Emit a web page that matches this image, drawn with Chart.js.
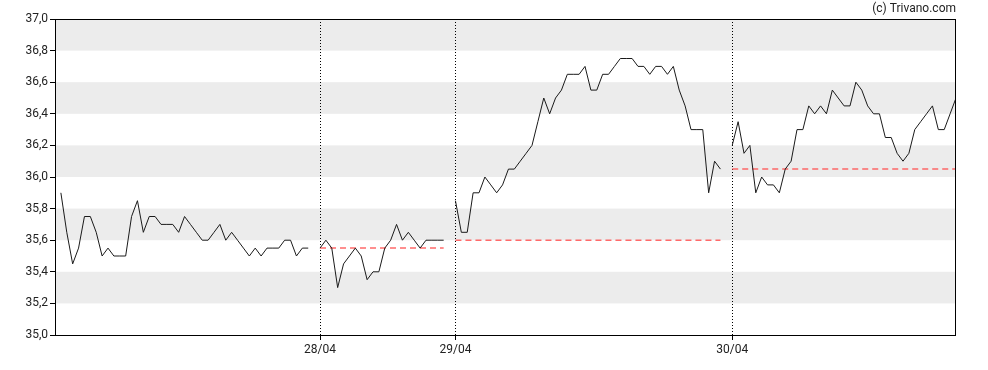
<!DOCTYPE html>
<html>
<head>
<meta charset="utf-8">
<script src="https://cdn.jsdelivr.net/npm/chart.js@4/dist/chart.umd.min.js"></script>
<style>
html,body{margin:0;padding:0;background:#fff;}
canvas{display:block;}
</style>
</head>
<body>
<canvas id="c" width="988" height="370"></canvas>
<script>
// Day labels (placed at the first point of each new day)
const dayLabels = ['28/04', '29/04', '30/04'];

// Intraday prices per day
const day1 = [35.9, 35.65, 35.45, 35.55, 35.75, 35.75, 35.65, 35.5, 35.55, 35.5, 35.5, 35.5, 35.75, 35.85, 35.65,
  35.75, 35.75, 35.7, 35.7, 35.7, 35.65, 35.75, 35.7, 35.65, 35.6, 35.6, 35.65, 35.7, 35.6, 35.65, 35.6, 35.55,
  35.5, 35.55, 35.5, 35.55, 35.55, 35.55, 35.6, 35.6, 35.5, 35.55, 35.55];
const day2 = [35.55, 35.6, 35.55, 35.3, 35.45, 35.5, 35.55, 35.5, 35.35, 35.4, 35.4, 35.55, 35.6, 35.7, 35.6,
  35.65, 35.6, 35.55, 35.6, 35.6, 35.6, 35.6];
const day3 = [35.85, 35.65, 35.65, 35.9, 35.9, 36.0, 35.95, 35.9, 35.95, 36.05, 36.05, 36.1, 36.15, 36.2, 36.35,
  36.5, 36.4, 36.5, 36.55, 36.65, 36.65, 36.65, 36.7, 36.55, 36.55, 36.65, 36.65, 36.7, 36.75, 36.75, 36.75,
  36.7, 36.7, 36.65, 36.7, 36.7, 36.65, 36.7, 36.55, 36.45, 36.3, 36.3, 36.3, 35.9, 36.1, 36.05];
const day4 = [36.2, 36.35, 36.15, 36.2, 35.9, 36.0, 35.95, 35.95, 35.9, 36.05, 36.1, 36.3, 36.3, 36.45, 36.4,
  36.45, 36.4, 36.55, 36.5, 36.45, 36.45, 36.6, 36.55, 36.45, 36.4, 36.4, 36.25, 36.25, 36.15, 36.1, 36.15,
  36.3, 36.35, 36.4, 36.45, 36.3, 36.3, 36.4, 36.5];

// Y axis range / ticks
const yMin = 35.0, yMax = 37.0, yStep = 0.2;

const days = [day1, day2, day3, day4];
// Build index positions: one empty slot between days
const starts = [];
let pos = 0;
days.forEach(d => { starts.push(pos); pos += d.length + 1; });
const xMax = pos - 2;

const datasets = [];
days.forEach((d, i) => {
  datasets.push({
    data: d.map((v, k) => ({x: starts[i] + k, y: v})),
    borderColor: '#1a1a1a', borderWidth: 1, pointRadius: 0, tension: 0, fill: false, order: 1
  });
});
// Previous close reference lines for days 2..4
for (let i = 1; i < days.length; i++) {
  const prev = days[i - 1][days[i - 1].length - 1];
  const x0 = starts[i], x1 = starts[i] + days[i].length - 1;
  datasets.push({
    data: [{x: x0, y: prev}, {x: x1, y: prev}],
    borderColor: 'rgba(255,80,80,0.85)', borderWidth: 1.5, borderDash: [6, 4],
    pointRadius: 0, fill: false, order: 2
  });
}
const dayTicks = starts.slice(1);

const deco = {
  id: 'deco',
  beforeDatasetsDraw(chart) {
    const {ctx, chartArea: a, scales: {x, y}} = chart;
    ctx.save();
    ctx.fillStyle = '#ececec';
    for (let v = yMin + yStep; v < yMax - 1e-9; v += 2 * yStep) {
      const t = y.getPixelForValue(v + yStep), b = y.getPixelForValue(v);
      ctx.fillRect(a.left, t, a.right - a.left, b - t);
    }
    ctx.strokeStyle = '#000';
    ctx.lineWidth = 1;
    ctx.setLineDash([1, 2]);
    dayTicks.forEach(v => {
      const px = Math.round(x.getPixelForValue(v)) + 0.5;
      ctx.beginPath();
      ctx.moveTo(px, a.top);
      ctx.lineTo(px, a.bottom);
      ctx.stroke();
    });
    ctx.restore();
  },
  afterDraw(chart) {
    const {ctx, chartArea: a} = chart;
    ctx.save();
    ctx.strokeStyle = '#000';
    ctx.lineWidth = 1;
    ctx.strokeRect(Math.round(a.left) + 0.5, Math.round(a.top) + 0.5,
      Math.round(a.right - a.left) - 1, Math.round(a.bottom - a.top));
    ctx.fillStyle = '#222';
    ctx.font = '12px Roboto, Arial, sans-serif';
    ctx.textAlign = 'right';
    ctx.textBaseline = 'middle';
    ctx.fillText('(c) Trivano.com', a.right, 9);
    ctx.restore();
  }
};

new Chart(document.getElementById('c'), {
  type: 'line',
  data: {datasets},
  options: {
    responsive: false, animation: false, devicePixelRatio: 1,
    layout: {padding: {top: 19, right: 32, left: 0, bottom: 0}},
    plugins: {legend: {display: false}, tooltip: {enabled: false}, title: {display: false}},
    scales: {
      x: {
        type: 'linear', min: -1, max: xMax,
        afterFit(s) { s.height = 35; },
        afterBuildTicks(s) { s.ticks = dayTicks.map(v => ({value: v})); },
        ticks: {
          autoSkip: false, maxRotation: 0, padding: 3, color: '#222',
          font: {family: 'Roboto, Arial, sans-serif', size: 12},
          callback: (v) => dayLabels[dayTicks.indexOf(v)] || ''
        },
        grid: {drawOnChartArea: false, drawTicks: true, tickLength: 5, color: '#000'},
        border: {display: false}
      },
      y: {
        min: yMin, max: yMax,
        afterFit(s) { s.width = 55; },
        ticks: {
          stepSize: yStep, padding: 2, color: '#222',
          font: {family: 'Roboto, Arial, sans-serif', size: 12},
          callback: (v) => Number(v).toFixed(1).replace('.', ',')
        },
        grid: {drawOnChartArea: false, drawTicks: true, tickLength: 5, color: '#000'},
        border: {display: false}
      }
    }
  },
  plugins: [deco]
});
</script>
</body>
</html>
